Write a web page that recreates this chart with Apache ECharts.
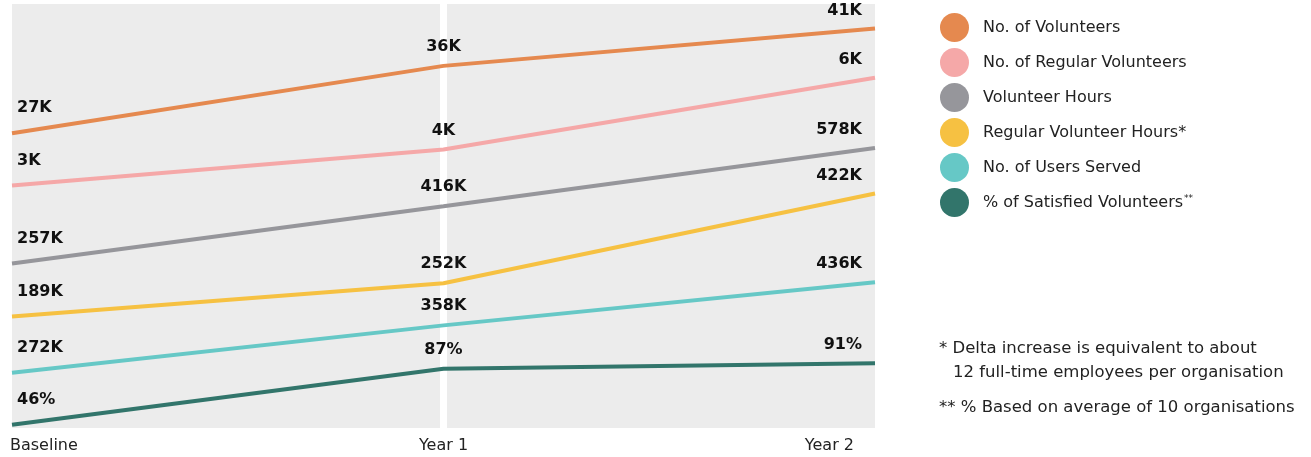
<!DOCTYPE html>
<html>
<head>
<meta charset="utf-8">
<script src="https://cdn.jsdelivr.net/npm/echarts@6/dist/echarts.min.js"></script>
<style>
html,body{margin:0;padding:0;background:#fff;}
#chart{width:1311px;height:457px;}
</style>
</head>
<body>
<div id="chart"></div>
<script>
// ---- data ----
const categories = ['Baseline', 'Year 1', 'Year 2'];
const seriesNames = [
  'No. of Volunteers',
  'No. of Regular Volunteers',
  'Volunteer Hours',
  'Regular Volunteer Hours*',
  'No. of Users Served',
  '% of Satisfied Volunteers**'
];
const volunteers = [27, 36, 41];              // K
const regularVolunteers = [3, 4, 6];          // K
const volunteerHours = [257, 416, 578];       // K
const regularVolunteerHours = [189, 252, 422];// K
const usersServed = [272, 358, 436];          // K
const satisfiedPct = [46, 87, 91];            // %
const labelSuffixes = ['K', 'K', 'K', 'K', 'K', '%'];
const footnotes = [
  '* Delta increase is equivalent to about',
  '12 full-time employees per organisation',
  '** % Based on average of 10 organisations'
];

// ---- styling ----
const seriesValues = [volunteers, regularVolunteers, volunteerHours, regularVolunteerHours, usersServed, satisfiedPct];
const colors = ['#E5894F', '#F5A8A8', '#96969B', '#F6C142', '#66C8C6', '#32756B'];
// each series is drawn on its own hidden value axis (slope-chart style)
const axisRanges = [
  [-12.4, 44.27],
  [-3.754, 8.053],
  [-200, 977.8],
  [-21.7, 780.3],
  [172.1, 940.1],
  [43.7, 353.3]
];
const FONT = 'DejaVu Sans';

const chart = echarts.init(document.getElementById('chart'), null, {renderer: 'canvas'});

const xData = categories.map((c, i) => {
  if (i === 0) return {value: c, textStyle: {align: 'left', padding: [0, 0, 0, -2]}};
  if (i === categories.length - 1) return {value: c, textStyle: {align: 'right', padding: [0, 21, 0, 0]}};
  return {value: c};
});

const series = seriesValues.map((vals, si) => ({
  name: seriesNames[si],
  type: 'line',
  yAxisIndex: si,
  data: vals.map((v, i) => {
    let lab;
    if (i === 0) lab = {align: 'left', offset: [5, -9]};
    else if (i === vals.length - 1) lab = {align: 'right', offset: [-13, -2]};
    else lab = {align: 'center', offset: [0, -3]};
    return {value: v, label: lab};
  }),
  symbol: 'circle',
  symbolSize: 0.1,
  showSymbol: true,
  lineStyle: {width: 4, color: colors[si]},
  itemStyle: {color: colors[si]},
  label: {
    show: true,
    position: 'top',
    distance: 8,
    fontFamily: FONT,
    fontWeight: 'bold',
    fontSize: 16,
    color: '#111',
    formatter: p => p.value + labelSuffixes[si]
  },
  emphasis: {disabled: true}
}));

const option = {
  animation: false,
  backgroundColor: '#fff',
  grid: {
    left: 12, right: 436, top: 4, bottom: 29,
    show: true, backgroundColor: '#ececec', borderWidth: 0
  },
  xAxis: {
    type: 'category',
    data: xData,
    boundaryGap: false,
    axisLine: {show: false},
    axisTick: {show: false},
    axisLabel: {margin: 10, fontSize: 16, color: '#222', fontFamily: FONT},
    splitLine: {
      show: true,
      interval: (idx) => idx === 1,
      lineStyle: {color: '#ffffff', width: 7}
    }
  },
  yAxis: axisRanges.map(r => ({
    type: 'value', min: r[0], max: r[1], show: false,
    splitLine: {show: false}
  })),
  legend: {
    orient: 'vertical',
    left: 935,
    top: 8,
    icon: 'circle',
    itemWidth: 29,
    itemHeight: 29,
    itemGap: 6,
    data: seriesNames,
    textStyle: {
      fontFamily: FONT, fontSize: 16, color: '#222',
      padding: [0, 0, 0, 9],
      rich: {
        n: {fontFamily: FONT, fontSize: 16, color: '#222'},
        s: {fontFamily: FONT, fontSize: 9, color: '#222', verticalAlign: 'top', padding: [0, 0, 7, 1]}
      }
    },
    formatter: name => name.endsWith('**') ? '{n|' + name.slice(0, -2) + '}{s|**}' : name,
    selectedMode: false
  },
  graphic: [
    {type: 'text', left: 939, top: 340, style: {text: footnotes[0], font: '16.5px "DejaVu Sans"', fill: '#222'}},
    {type: 'text', left: 953, top: 364, style: {text: footnotes[1], font: '16.5px "DejaVu Sans"', fill: '#222'}},
    {type: 'text', left: 939, top: 399, style: {text: footnotes[2], font: '16.5px "DejaVu Sans"', fill: '#222'}}
  ],
  series: series
};
chart.setOption(option);
</script>
</body>
</html>
